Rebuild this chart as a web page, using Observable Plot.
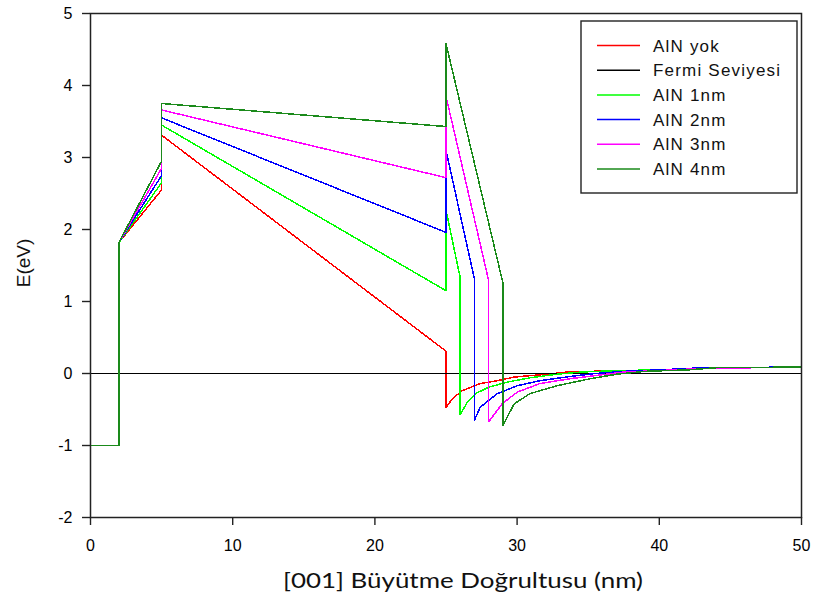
<!DOCTYPE html>
<html><head><meta charset="utf-8">
<script src="https://cdn.jsdelivr.net/npm/d3@7"></script>
<script src="https://cdn.jsdelivr.net/npm/@observablehq/plot@0.6"></script>
<style>body{margin:0;background:#fff}</style>
</head><body><div id="chart"></div>
<script>
const seriesNames = ["AlN yok","Fermi Seviyesi","AlN 1nm","AlN 2nm","AlN 3nm","AlN 4nm"];
const seriesColors = ["#ff0000","#000000","#00ff00","#0000ff","#ff00ff","#1a8a1a"];
const xTicks = [0,10,20,30,40,50];
const yTicks = [-2,-1,0,1,2,3,4,5];
const xTitle = "[001] Büyütme Doğrultusu (nm)";
const yTitle = "E(eV)";

const xYok = [0,2,2,5,5,25,25,25.5,26.14,27.4,28.6,29.8,30.9,32.1,33.5,37,40,43,50];
const eYok = [-1,-1,1.82,2.55,3.31,0.31,-0.47,-0.34,-0.24,-0.14,-0.10,-0.05,-0.03,-0.01,0.02,0.04,0.05,0.08,0.09];

const xFermi = [0,50];
const eFermi = [0,0];

const x1nm = [0,2,2,5,5,25,25,26,26,26.5,27.07,28,29.3,30.9,32.8,34.5,37,40,43,50];
const e1nm = [-1,-1,1.82,2.65,3.45,1.15,2.27,1.33,-0.57,-0.40,-0.28,-0.19,-0.12,-0.06,-0.01,0.02,0.04,0.05,0.08,0.09];

const x2nm = [0,2,2,5,5,25,25,27,27,27.4,28.6,30,31.6,33.8,35.5,37.5,40,43,50];
const e2nm = [-1,-1,1.82,2.75,3.55,1.96,3.10,1.31,-0.65,-0.47,-0.28,-0.17,-0.10,-0.04,0.0,0.03,0.05,0.08,0.09];

const x3nm = [0,2,2,5,5,25,25,28,28,28.95,30,31.6,33.8,35.5,37.5,40,43,50];
const e3nm = [-1,-1,1.82,2.85,3.66,2.72,3.85,1.29,-0.67,-0.42,-0.26,-0.14,-0.07,-0.03,0.02,0.04,0.07,0.09];

const x4nm = [0,2,2,5,5,25,25,29,29,29.8,30.9,32.8,35.2,37,39,42,44,50];
const e4nm = [-1,-1,1.82,2.95,3.75,3.43,4.58,1.26,-0.72,-0.42,-0.28,-0.17,-0.07,-0.01,0.03,0.05,0.08,0.09];

const xs = [xYok,xFermi,x1nm,x2nm,x3nm,x4nm];
const es = [eYok,eFermi,e1nm,e2nm,e3nm,e4nm];
const rows = [];
seriesNames.forEach((name,i)=>{
  xs[i].forEach((x,j)=>rows.push({series:name, x, e: es[i][j]}));
});

const font = "'Liberation Sans', Arial, sans-serif";
const chart = Plot.plot({
  width: 813, height: 612,
  marginLeft: 90, marginRight: 12, marginTop: 13, marginBottom: 95,
  style: {fontFamily: font, fontSize: "16px", background: "white", color: "black"},
  x: {domain: [0,50]},
  y: {domain: [-2,5]},
  color: {domain: seriesNames, range: seriesColors},
  marks: [
    Plot.axisX({ticks: xTicks, tickSize: 8, tickPadding: 14, tickFormat: d=>String(d), label: null, stroke: "#222", strokeWidth: 1.4}),
    Plot.axisY({ticks: yTicks, tickSize: 8, tickPadding: 10, tickFormat: d=>String(d), label: null, stroke: "#222", strokeWidth: 1.4}),
    Plot.line(rows, {x: "x", y: "e", z: "series", stroke: "series", strokeWidth: 1.5, shapeRendering: "crispEdges"}),
    Plot.frame({stroke: "#222", strokeWidth: 1.5})
  ]
});
document.getElementById("chart").appendChild(chart);

const svg = d3.select(chart);
svg.append("text")
  .attr("x", 463).attr("y", 588)
  .attr("text-anchor", "middle")
  .attr("font-family", "Lato, sans-serif")
  .attr("font-size", 21)
  .attr("textLength", 360).attr("lengthAdjust", "spacingAndGlyphs")
  .attr("fill", "#111")
  .text(xTitle);
svg.append("text")
  .attr("transform", "translate(30,263) rotate(-90)")
  .attr("text-anchor", "middle")
  .attr("font-family", font)
  .attr("font-size", 19)
  .attr("fill", "#111")
  .text(yTitle);

const lg = svg.append("g").attr("text-anchor", "start");
lg.append("rect").attr("x", 581).attr("y", 21).attr("width", 216).attr("height", 172)
  .attr("fill", "white").attr("stroke", "#222").attr("stroke-width", 1.4);
seriesNames.forEach((name,i)=>{
  const cy = 45.5 + i*24.7;
  lg.append("line").attr("x1", 597).attr("x2", 640).attr("y1", cy).attr("y2", cy)
    .attr("stroke", seriesColors[i]).attr("stroke-width", 1.5);
  lg.append("text").attr("x", 653).attr("y", cy).attr("dy", "0.36em")
    .attr("text-anchor", "start")
    .attr("font-family", font).attr("font-size", 17).attr("letter-spacing", "1.2px")
    .attr("fill", "#111").text(name);
});
</script></body></html>
